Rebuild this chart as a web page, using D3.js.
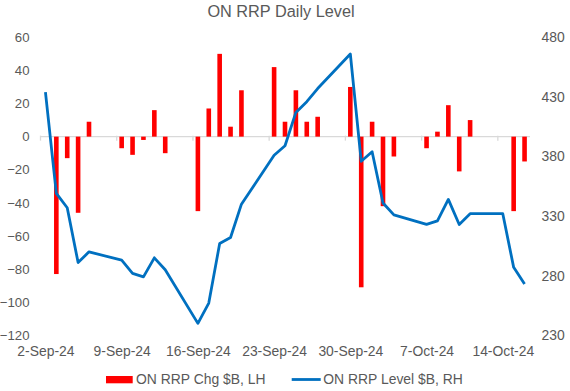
<!DOCTYPE html>
<html>
<head>
<meta charset="utf-8">
<script src="https://cdn.jsdelivr.net/npm/d3@7"></script>
<style>
  html, body { margin: 0; padding: 0; background: #fff; }
  svg text { font-family: "Liberation Sans", Arial, sans-serif; }
</style>
</head>
<body>
<svg id="chart" width="570" height="391"></svg>
<script>
// ---- Data ----
const dates = ["2024-09-02","2024-09-03","2024-09-04","2024-09-05","2024-09-06",
  "2024-09-09","2024-09-10","2024-09-11","2024-09-12","2024-09-13",
  "2024-09-16","2024-09-17","2024-09-18","2024-09-19","2024-09-20",
  "2024-09-23","2024-09-24","2024-09-25","2024-09-26","2024-09-27",
  "2024-09-30","2024-10-01","2024-10-02","2024-10-03","2024-10-04",
  "2024-10-07","2024-10-08","2024-10-09","2024-10-10","2024-10-11",
  "2024-10-14","2024-10-15","2024-10-16"];
const chg = [null,-83,-13,-46,9,
  -7,-11,-2,16,-10,
  -45,17,50,6,28,
  42,9,28,9,12,
  30,-91,9,-42,-12,
  -7,3,19,-21,10,
  null,-45,-15];
const level = [434,349,337,291,300,
  293,282,279,295,285,
  240,257,307,312,340,
  381,389,417,426,437,
  466,376,384,341,331,
  323,326,344,323,332,
  332,287,273];
const xTickDates = ["2024-09-02","2024-09-09","2024-09-16","2024-09-23","2024-09-30","2024-10-07","2024-10-14"];
const xTickLabels = ["2-Sep-24","9-Sep-24","16-Sep-24","23-Sep-24","30-Sep-24","7-Oct-24","14-Oct-24"];
const leftTicks = [-120,-100,-80,-60,-40,-20,0,20,40,60];
const rightTicks = [230,280,330,380,430,480];
const title = "ON RRP Daily Level";
const seriesNames = ["ON RRP Chg $B, LH", "ON RRP Level $B, RH"];

// ---- Layout ----
const svg = d3.select("#chart");
const parse = d3.utcParse("%Y-%m-%d");
const day = 86400000;
const plot = {left: 40, right: 530, top: 37.3, bottom: 335.3};
const fs = 13.9;

const x = d3.scaleUtc()
  .domain([parse("2024-09-02"), parse("2024-10-17")])
  .range([plot.left, plot.right]);
const mid = d => new Date(parse(d).getTime() + day / 2);
const xc = d => x(mid(d));
const yL = d3.scaleLinear().domain([-120, 60]).range([plot.bottom, plot.top]);
const yR = d3.scaleLinear().domain([230, 480]).range([plot.bottom, plot.top]);

const textColor = "#595959";

// Title
svg.append("text")
  .attr("x", 281).attr("y", 16.7)
  .attr("text-anchor", "middle")
  .attr("font-size", 16.3)
  .attr("fill", textColor)
  .text(title);

// Left axis labels
const leftAxis = d3.axisLeft(yL).tickValues(leftTicks).tickSize(0).tickPadding(0);
const gL = svg.append("g").attr("transform", `translate(${29.5},0)`).call(leftAxis);
gL.select(".domain").remove();
gL.selectAll("text").attr("font-size", 13.2).attr("fill", textColor)
  .attr("font-family", "Liberation Sans, Arial, sans-serif");

// Right axis labels
const rightAxis = d3.axisRight(yR).tickValues(rightTicks).tickSize(0).tickPadding(0);
const gR = svg.append("g").attr("transform", `translate(${541.5},0)`).call(rightAxis);
gR.select(".domain").remove();
gR.selectAll("text").attr("font-size", fs).attr("fill", textColor)
  .attr("font-family", "Liberation Sans, Arial, sans-serif");

// Zero line with weekly ticks
const gZ = svg.append("g").attr("transform", `translate(0,${yL(0)})`);
const xAxis = d3.axisBottom(x)
  .tickValues(xTickDates.map(parse))
  .tickSize(4)
  .tickFormat("");
gZ.call(xAxis);
gZ.select(".domain").attr("d", `M${plot.left},0H${plot.right}`).attr("stroke", "#D9D9D9").attr("stroke-width", 1.3);
gZ.selectAll(".tick line").attr("stroke", "#D9D9D9").attr("stroke-width", 1.3).attr("y1", -1);

// X labels at bottom (centred on the day)
const gX = svg.append("g").attr("transform", `translate(0,${plot.bottom})`);
gX.call(d3.axisBottom(x).tickValues(xTickDates.map(mid)).tickSize(0).tickPadding(0)
  .tickFormat((d, i) => xTickLabels[i]));
gX.select(".domain").remove();
gX.selectAll("text").attr("font-size", fs).attr("fill", textColor)
  .attr("font-family", "Liberation Sans, Arial, sans-serif")
  .attr("dy", "0").attr("y", 20.4);

// Bars
const barW = 4.6;
const barData = dates.map((d, i) => ({d, v: chg[i]})).filter(o => o.v !== null);
svg.append("g").selectAll("rect").data(barData).join("rect")
  .attr("x", o => xc(o.d) - barW / 2)
  .attr("width", barW)
  .attr("y", o => yL(Math.max(0, o.v)))
  .attr("height", o => Math.abs(yL(o.v) - yL(0)))
  .attr("fill", "#FF0000");

// Line
const line = d3.line().x((d, i) => xc(dates[i])).y(d => yR(d));
svg.append("path").datum(level)
  .attr("d", line)
  .attr("fill", "none")
  .attr("stroke", "#0070C0")
  .attr("stroke-width", 2.8)
  .attr("stroke-linejoin", "round");

// Legend
const lg = svg.append("g");
lg.append("rect").attr("x", 106).attr("y", 376).attr("width", 26.7).attr("height", 7.3).attr("fill", "#FF0000");
lg.append("text").attr("x", 136).attr("y", 384.3).attr("font-size", fs).attr("fill", textColor).text(seriesNames[0]);
lg.append("line").attr("x1", 291.7).attr("x2", 320.7).attr("y1", 379.5).attr("y2", 379.5)
  .attr("stroke", "#0070C0").attr("stroke-width", 2.8);
lg.append("text").attr("x", 323.3).attr("y", 384.3).attr("font-size", fs).attr("fill", textColor).text(seriesNames[1]);
</script>
</body>
</html>
